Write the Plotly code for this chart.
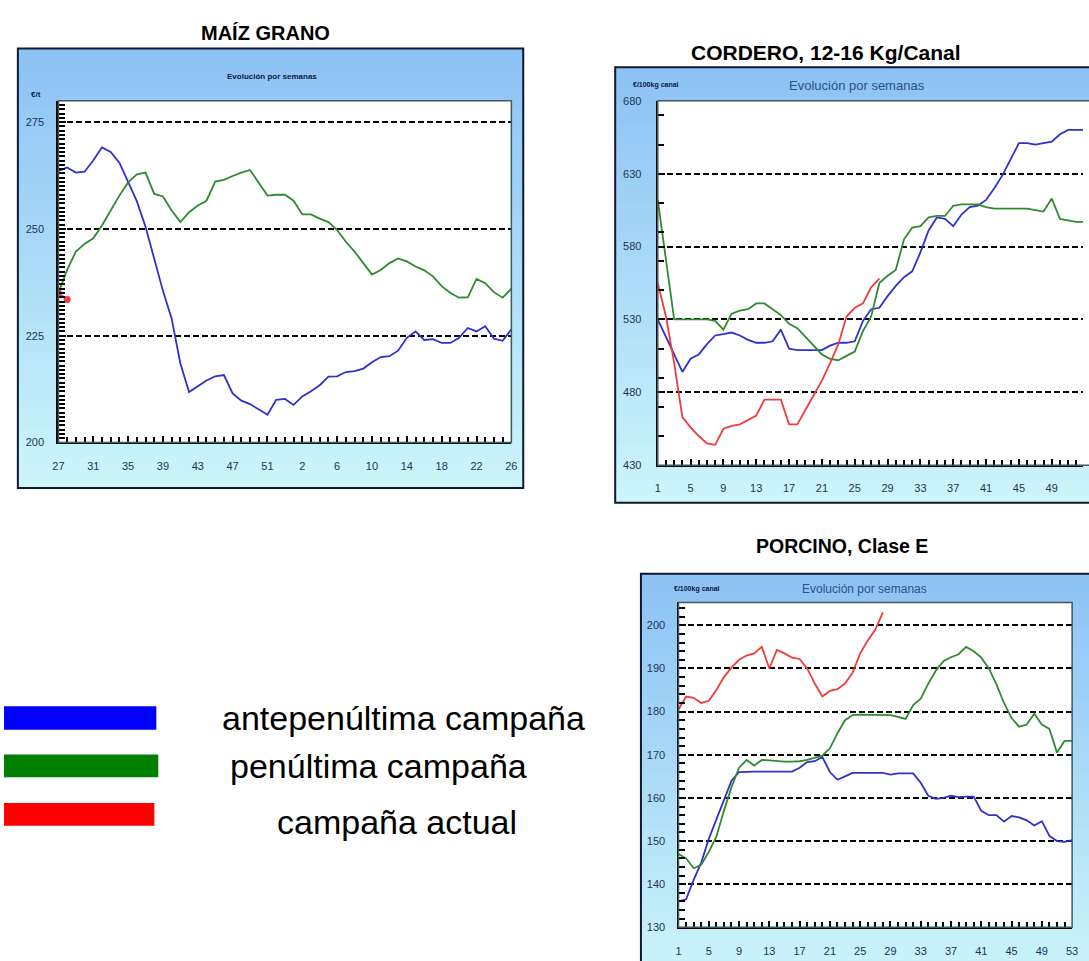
import plotly.graph_objects as go

W, H = 1089, 961
FONT = "Liberation Sans"
TICKC = "#1c3556"

# ---------------- data ----------------
maiz_weeks = [str(w) for w in list(range(27, 54)) + list(range(1, 27))]
maiz_ante = [263.6, 264.4, 263.2, 263.4, 266.0, 269.1, 268.0, 265.5, 261.0, 256.5,
             250.5, 243.0, 235.5, 229.0, 218.5, 211.8, 213.2, 214.5, 215.5, 215.8,
             211.5, 209.8, 209.0, 207.8, 206.5, 210.0, 210.2, 208.8, 210.8, 212.0,
             213.4, 215.4, 215.5, 216.5, 216.7, 217.3, 218.8, 220.0, 220.2, 221.5,
             224.5, 226.0, 224.0, 224.2, 223.3, 223.3, 224.5, 226.8, 226.0, 227.2,
             224.3, 223.8, 226.5]
maiz_penul = [235.0, 240.4, 244.7, 246.5, 247.8, 250.8, 254.3, 257.8, 260.9, 262.8,
              263.2, 258.2, 257.6, 254.3, 251.6, 253.9, 255.5, 256.6, 261.1, 261.5,
              262.4, 263.2, 263.8, 260.9, 257.8, 258.0, 258.0, 256.6, 253.4, 253.4,
              252.4, 251.6, 249.7, 247.0, 244.7, 242.0, 239.3, 240.4, 242.0, 243.1,
              242.4, 241.2, 240.3, 238.9, 236.6, 235.0, 233.9, 234.0, 238.3, 237.3,
              235.2, 233.9, 236.0]
maiz_actual = [235.0, 233.5]

year_weeks = [str(w) for w in range(1, 54)]
cord_ante = [530, 518, 505, 494, 503, 506, 513, 519, 520, 521,
             519, 516, 514, 514, 515, 523, 510, 509, 509, 509,
             509, 512, 514, 514, 515, 529, 537, 538, 546, 553,
             559, 563, 576, 591, 600, 599, 594, 602, 607, 608,
             612, 620, 629, 640, 651, 651, 650, 651, 652, 657,
             660, 660, 660]
cord_penul = [612, 572, 530, 530, 530, 530, 530, 529, 523, 534,
              536, 537, 541, 541, 537, 533, 527, 524, 518, 512,
              506, 503, 502, 505, 508, 522, 532, 555, 560, 564,
              585, 593, 594, 600, 601, 601, 608, 609, 609, 609,
              607, 606, 606, 606, 606, 606, 605, 604, 613, 599,
              598, 597, 597]
cord_actual = [555, 532, 500, 463, 456, 450, 445, 444, 455, 457,
               458, 461, 464, 475, 475, 475, 458, 458, 468, 478,
               488, 500, 513, 532, 538, 541, 552, 558]

porc_ante = [136, 136.5, 141, 145, 150.5, 155, 159.5, 164, 166, 166.1,
             166.1, 166.1, 166.1, 166.1, 166.1, 166.1, 167.0, 168.3, 168.5, 169.5,
             166, 164.2, 165, 165.8, 165.8, 165.8, 165.8, 165.8, 165.4, 165.7,
             165.7, 165.7, 163.5, 160.5, 159.8, 160, 160.5, 160.2, 160.3, 160.3,
             157, 156, 156, 154.5, 155.8, 155.5, 154.8, 153.6, 154.6, 151.2,
             150, 149.8, 150.2]
porc_penul = [147, 146, 143.7, 144.5, 147.5, 151, 157, 162.5, 167, 168.8,
              167.5, 168.8, 168.7, 168.5, 168.4, 168.4, 168.5, 168.8, 169.3, 169.8,
              171.5, 175, 178, 179.2, 179.3, 179.3, 179.3, 179.3, 179.2, 178.8,
              178.3, 181.5, 183, 186.5, 189.5, 191.7, 192.6, 193.3, 195, 194,
              192.5, 190, 186.3, 182, 178.5, 176.5, 177, 179.5, 177, 176,
              170.5, 173.2, 173.2]
porc_actual = [180.5, 183.5, 183.2, 182, 182.5, 185, 188, 190.2, 192, 193,
               193.5, 195, 190, 194.3, 193.5, 192.5, 192.2, 190, 186.5, 183.5,
               184.8, 185.2, 186.5, 189, 193.5, 196.5, 199, 203]

series_names = ["antepenúltima campaña", "penúltima campaña", "campaña actual"]
series_colors = ["#3030cc", "#2e8b2e", "#f03c3c"]
legend_colors = ["#0000ff", "#008000", "#ff0000"]


def px(x):
    return x / W


def py(y):
    return 1 - y / H


fig = go.Figure()

panels = [
    dict(ax="", weeks=maiz_weeks, data=[maiz_ante, maiz_penul, maiz_actual]),
    dict(ax="2", weeks=year_weeks, data=[cord_ante, cord_penul, cord_actual]),
    dict(ax="3", weeks=year_weeks, data=[porc_ante, porc_penul, porc_actual]),
]
for p in panels:
    for k, vals in enumerate(p["data"]):
        fig.add_trace(go.Scatter(
            x=list(range(len(vals))), y=vals, mode="lines+markers" if len(vals) < 5 else "lines",
            line=dict(color=series_colors[k], width=1.8),
            marker=dict(size=7, color=series_colors[k]),
            name=series_names[k], showlegend=False, hoverinfo="skip",
            xaxis="x" + p["ax"], yaxis="y" + p["ax"],
        ))

shapes = []


def gradient_box(x0, y0, x1, y1, n=45):
    top = (140, 193, 245)
    bot = (204, 246, 250)
    hstep = (y1 - y0) / n
    for k in range(n):
        t = (k + 0.5) / n
        c = tuple(round(top[j] + (bot[j] - top[j]) * t) for j in range(3))
        shapes.append(dict(type="rect", xref="paper", yref="paper",
                           x0=px(x0), x1=px(x1), y0=py(y0 + k * hstep),
                           y1=py(y0 + (k + 1) * hstep + 0.8),
                           fillcolor="rgb(%d,%d,%d)" % c, line_width=0, layer="below"))


def panel_frame(box, plot):
    gradient_box(*box)
    shapes.append(dict(type="rect", xref="paper", yref="paper",
                       x0=px(plot[0]), x1=px(plot[2]), y0=py(plot[3]), y1=py(plot[1]),
                       fillcolor="white", line_width=0, layer="below"))
    shapes.append(dict(type="rect", xref="paper", yref="paper",
                       x0=px(box[0]), x1=px(box[2]), y0=py(box[3]), y1=py(box[1]),
                       fillcolor="rgba(0,0,0,0)", line=dict(color="#101830", width=2), layer="below"))
    shapes.append(dict(type="rect", xref="paper", yref="paper",
                       x0=px(plot[0]), x1=px(plot[2]), y0=py(plot[3]), y1=py(plot[1]),
                       fillcolor="rgba(0,0,0,0)", line=dict(color="#3d5a64", width=1.5), layer="above"))


# boxes (x0, y0, x1, y1) in pixels; plot areas likewise
panel_frame((12, 43, 523, 488), (53, 96, 511, 442))
panel_frame((616, 62, 1110, 503), (659, 96, 1100, 465))
panel_frame((642, 575, 1110, 990), (680, 604, 1078, 933))

# legend bars
bar_y = [(709, 733), (758, 781), (807, 830)]
bar_x = [152, 154, 150]
for k in range(3):
    shapes.append(dict(type="rect", xref="paper", yref="paper",
                       x0=px(-2), x1=px(bar_x[k]), y0=py(bar_y[k][1]), y1=py(bar_y[k][0]),
                       fillcolor=legend_colors[k], line_width=0))


def xaxis_cfg(dom, rng, weeks):
    return dict(domain=dom, range=rng, tickmode="array",
                tickvals=list(range(0, len(weeks), 4)), ticktext=weeks[::4],
                ticks="inside", ticklen=6, tickwidth=2, tickcolor="black",
                showline=True, linecolor="black", linewidth=2, showgrid=False, zeroline=False,
                tickfont=dict(size=11, color=TICKC, family=FONT), ticklabelstandoff=12,
                minor=dict(dtick=1, tick0=0, ticks="inside", ticklen=5, tickwidth=1.6,
                           tickcolor="black", showgrid=False),
                fixedrange=True)


def yaxis_cfg(dom, rng, dtick, mdtick, standoff):
    return dict(domain=dom, range=rng, tick0=rng[0], dtick=dtick,
                ticks="inside", ticklen=7, tickwidth=2, tickcolor="black",
                showline=True, linecolor="black", linewidth=2.2, zeroline=False,
                showgrid=True, gridcolor="black", gridwidth=1.6, griddash="6px,3px",
                tickfont=dict(size=11, color=TICKC, family=FONT), ticklabelstandoff=standoff,
                minor=dict(dtick=mdtick, tick0=rng[0], ticks="inside", ticklen=6, tickwidth=1.6,
                           tickcolor="black", showgrid=False),
                fixedrange=True)


annotations = []


def text(x, y, s, size, color="black", weight=400, xanchor="center"):
    annotations.append(dict(xref="paper", yref="paper", x=px(x), y=py(y), text=s,
                            showarrow=False, xanchor=xanchor, yanchor="middle",
                            font=dict(family=FONT, size=size, color=color, weight=weight)))


# titles
text(262, 27, "MAÍZ GRANO", 20, weight=700)
text(829, 47, "CORDERO, 12-16 Kg/Canal", 21, weight=700)
text(845, 547, "PORCINO, Clase E", 19.5, weight=700)
# subtitles
text(269, 71, "Evolución por semanas", 8, color="#0a1a40", weight=700)
text(860, 80, "Evolución por semanas", 13, color="#2d4f8f")
text(868, 590, "Evolución por semanas", 12, color="#2d4f8f")
# unit labels
text(30, 90, "€/t", 8, color="#0a1a40", weight=700)
text(657, 80, "€/100kg canal", 7, color="#0a1a40", weight=700)
text(699, 590, "€/100kg canal", 7, color="#0a1a40", weight=700)
# legend texts
text(216, 721, series_names[0], 34, xanchor="left")
text(224, 770, series_names[1], 34, xanchor="left")
text(272, 826, series_names[2], 34, xanchor="left")

fig.update_layout(
    width=W, height=H, margin=dict(l=0, r=0, t=0, b=0),
    paper_bgcolor="white", plot_bgcolor="rgba(0,0,0,0)",
    showlegend=False,
    xaxis=xaxis_cfg([px(53), px(511)], [0, 52], maiz_weeks),
    yaxis=yaxis_cfg([py(442), py(96)], [200, 280], 25, 1, 10),
    xaxis2=xaxis_cfg([px(659), 1.0], [0, (1089 - 659) / 8.3], year_weeks),
    yaxis2=yaxis_cfg([py(465), py(96)], [430, 680], 50, 20, 12),
    xaxis3=xaxis_cfg([px(680), px(1078)], [0, 52], year_weeks),
    yaxis3=yaxis_cfg([py(933), py(604)], [130, 205.3], 10, 2, 9),
    shapes=shapes, annotations=annotations,
)
fig.layout.xaxis.anchor = "y"
fig.layout.yaxis.anchor = "x"
fig.layout.xaxis2.anchor = "y2"
fig.layout.yaxis2.anchor = "x2"
fig.layout.xaxis3.anchor = "y3"
fig.layout.yaxis3.anchor = "x3"

fig.write_html(
    "out.html",
    config=dict(displayModeBar=False),
    post_script="document.body.style.margin='0';document.body.style.overflow='hidden';",
)
